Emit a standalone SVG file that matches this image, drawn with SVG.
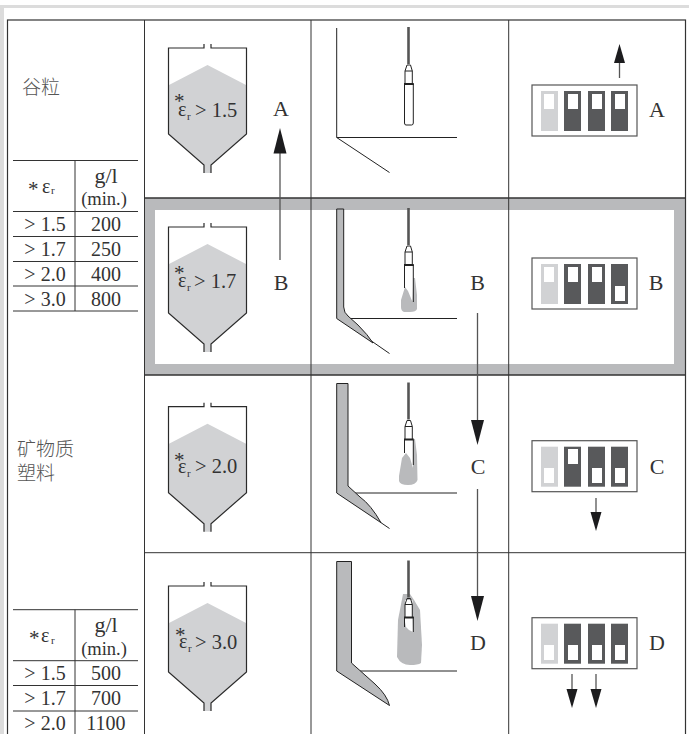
<svg xmlns="http://www.w3.org/2000/svg" width="689" height="734" viewBox="0 0 689 734">
<style>
text{font-family:"Liberation Serif",serif;fill:#333}
.cjk{font-family:"Noto Sans CJK SC","Liberation Serif",serif;font-size:19px;fill:#555;font-weight:300}
.t{font-size:20px;text-anchor:middle}
.m{font-size:18.5px;text-anchor:middle}
.gl{font-size:22px;text-anchor:middle}
.big{font-size:22px;text-anchor:middle}
.sv{font-size:20.500px}
.sub{font-size:11px}
.eps{font-size:20px}
.star{font-size:21px}
.l{fill:none;stroke:#333;stroke-width:1}
.k{stroke:#222;stroke-width:1;fill:none}
.sfill{fill:#d1d2d4}
.sline{fill:none;stroke:#2a2a2a;stroke-width:1.2}
.mat{fill:#b9babc;stroke:#222;stroke-width:1}
.blob{fill:#b9babc}
.body{fill:none;stroke:#222;stroke-width:1}
.ring{stroke:#222;stroke-width:2}
.wire{stroke:#555;stroke-width:2.600}
.sw{fill:#fff;stroke:#555;stroke-width:1.200}
.dk{fill:#58595b}
.lt{fill:#d1d2d4}
.w{fill:#fff}
.arl{stroke:#555;stroke-width:1.300;fill:none}
.arh{fill:#1c1c1e}
</style>
<defs>
<g id="silo">
<polygon class="sfill" points="169,85 207.500,65 246,85 246,134 211,165 211,173 204,173 204,165 169,134"/>
<path class="sline" d="M204,44V48H168.500V134L204,165V173M211,44V48H246.500V134L211,165V173"/>
</g>
<g id="head">
<path class="wire" d="M408.500,27V64"/>
<path class="body" d="M405,84V71L407,65H410.500L412.300,71V84M405,71H412.300"/>
<path class="ring" d="M404,84H413.800"/>
</g>
<g id="sw">
<rect class="sw" x="532" y="85" width="105" height="51"/>
<rect class="lt" x="541" y="91" width="17" height="40"/>
<rect class="dk" x="564" y="91" width="17" height="40"/>
<rect class="dk" x="588" y="91" width="17" height="40"/>
<rect class="dk" x="611" y="91" width="17" height="40"/>
</g>
<rect id="wu" class="w" width="10" height="15"/>
<path id="ua" class="arh" d="M0,0L5.500,19H-5.500Z"/>
<path id="da" class="arh" d="M0,0L5.500,-19H-5.500Z"/>
</defs>
<rect width="689" height="734" fill="#fff"/>
<path d="M0,5H689V8H4V734H0Z" fill="#dcdcdc"/>

<g id="highlight">
<path fill="#b9babc" fill-rule="evenodd" d="M144,198H686V375H144ZM155,210V364H674V210Z"/>
</g>

<g id="grid">
<rect x="7.500" y="20" width="678" height="720" fill="none" stroke="#333" stroke-width="1.200"/>
<path class="l" d="M144.500,20V734M311,20V734M508.700,20V734M144,552.700H686"/>
<path d="M144,198H686M144,375H686" stroke="#333" stroke-width="1.500" fill="none"/>
</g>

<g id="table-1">
<path class="l" d="M13,160.500H138M13,211.500H138M13,236.500H138M13,261.500H138M13,286H138M13,311H138M75,160.500V311"/>
<text><tspan x="28" y="196" class="star">*</tspan><tspan x="42" y="193" class="eps">ε</tspan><tspan x="51" y="194" class="sub">r</tspan></text>
<text class="gl" x="106" y="183">g/l</text><text class="m" x="104" y="205">(min.)</text>
<text class="t" x="45" y="231">&gt; 1.5</text><text class="t" x="106" y="231">200</text>
<text class="t" x="45" y="256">&gt; 1.7</text><text class="t" x="106" y="256">250</text>
<text class="t" x="45" y="281">&gt; 2.0</text><text class="t" x="106" y="281">400</text>
<text class="t" x="45" y="306">&gt; 3.0</text><text class="t" x="106" y="306">800</text>
</g>
<g id="table-2">
<path class="l" d="M13,609.700H138M13,660.700H138M13,685.500H138M13,711H138M75,609.700V734"/>
<text><tspan x="29" y="645" class="star">*</tspan><tspan x="41" y="642" class="eps">ε</tspan><tspan x="51" y="644" class="sub">r</tspan></text>
<text class="gl" x="106" y="632">g/l</text><text class="m" x="104" y="655">(min.)</text>
<text class="t" x="45" y="680">&gt; 1.5</text><text class="t" x="106" y="680">500</text>
<text class="t" x="45" y="705">&gt; 1.7</text><text class="t" x="106" y="705">700</text>
<text class="t" x="45" y="730">&gt; 2.0</text><text class="t" x="106" y="730">1100</text>
</g>
<g id="labels-material">
<text class="cjk" x="22" y="94">谷粒</text>
<text class="cjk" x="17" y="456">矿物质</text>
<text class="cjk" x="17" y="480">塑料</text>
</g>

<g id="silo-a"><use href="#silo"/>
<text><tspan x="174" y="108" class="star">*</tspan><tspan x="178" y="116" class="eps">ε</tspan><tspan x="187" y="120" class="sub">r</tspan><tspan x="195" y="117" class="sv">&gt; 1.5</tspan></text></g>
<g id="silo-b"><use href="#silo" y="179"/>
<text><tspan x="174" y="280" class="star">*</tspan><tspan x="178" y="287" class="eps">ε</tspan><tspan x="187" y="291" class="sub">r</tspan><tspan x="194" y="288" class="sv">&gt; 1.7</tspan></text></g>
<g id="silo-c"><use href="#silo" y="358.700"/>
<text><tspan x="174" y="467" class="star">*</tspan><tspan x="178" y="473" class="eps">ε</tspan><tspan x="187" y="477" class="sub">r</tspan><tspan x="195" y="473" class="sv">&gt; 2.0</tspan></text></g>
<g id="silo-d"><use href="#silo" y="538"/>
<text><tspan x="175" y="642" class="star">*</tspan><tspan x="179" y="648" class="eps">ε</tspan><tspan x="188" y="652" class="sub">r</tspan><tspan x="195" y="649" class="sv">&gt; 3.0</tspan></text></g>

<g id="vessel-a">
<path class="k" d="M336.700,137.500H457M336.700,137.500L389.500,172.500M336.700,28V137.500"/>
<use href="#head"/>
<path class="body" d="M404.500,84V123Q404.500,125 406,125H411.500Q413.300,125 413.300,123V84"/>
</g>
<g id="vessel-b">
<path class="k" d="M345,318.500H457M370,340L389.500,353.500"/>
<path class="blob" d="M401,300L405,287L408,291L412.500,302L413.300,278H415L417,295V309Q416,312 410,312H404Q401,311 401,307Z"/>
<path class="mat" d="M336.700,209H343.700V307Q344,313 348,316L358,325Q368,335 373,343L336.700,318.500Z"/>
<use href="#head" y="181"/>
<path class="body" d="M404.500,265V288M413.300,265V302"/>
</g>
<g id="vessel-c">
<path class="k" d="M355,493H457M381,522.700L389.500,528.500"/>
<path class="blob" d="M399,476L402,458L406,453L410,458L413,468L413.300,439H415L417,455L417.500,480Q416,485 408,485Q400,485 399,481Z"/>
<path class="mat" d="M336.700,383.500H348V486L360,497Q371,505 381,522.700L336.700,493Z"/>
<use href="#head" y="355.500"/>
<path class="body" d="M404.500,440V453M413.300,440V465"/>
</g>
<g id="vessel-d">
<path class="k" d="M360,671H457"/>
<path class="blob" d="M403,594L398,620L397,657Q401,665 410,665Q418,665 421,663L422,645L420,610L414,600L410,594Z"/>
<path class="w" d="M405,600H412.500V618L413,632L409,630L406,627L405,622Z"/>
<path class="mat" d="M336.700,561.500H351.500V663L375,684Q387,695 389.500,705.500L336.700,671Z"/>
<use href="#head" y="533.500"/>
<path class="body" d="M404.500,617V627M413.300,617V632"/>
</g>

<g id="switch-a"><use href="#sw"/>
<use href="#wu" x="544" y="94"/><use href="#wu" x="568" y="94"/><use href="#wu" x="592" y="94"/><use href="#wu" x="615" y="94"/></g>
<g id="switch-b"><use href="#sw" y="173"/>
<use href="#wu" x="544" y="267"/><use href="#wu" x="568" y="267"/><use href="#wu" x="592" y="267"/><use href="#wu" x="615" y="286"/></g>
<g id="switch-c"><use href="#sw" y="355.700"/>
<use href="#wu" x="544" y="468"/><use href="#wu" x="568" y="449"/><use href="#wu" x="592" y="468"/><use href="#wu" x="615" y="468"/></g>
<g id="switch-d"><use href="#sw" y="532.700"/>
<use href="#wu" x="544" y="645"/><use href="#wu" x="568" y="645"/><use href="#wu" x="592" y="645"/><use href="#wu" x="615" y="645"/></g>

<g id="letters">
<text class="big" x="281" y="116">A</text>
<text class="big" x="281" y="290">B</text>
<text class="big" x="477.500" y="290">B</text>
<text class="big" x="478" y="474">C</text>
<text class="big" x="478" y="650">D</text>
<text class="big" x="657" y="117">A</text>
<text class="big" x="656" y="290">B</text>
<text class="big" x="657" y="474">C</text>
<text class="big" x="657" y="650">D</text>
</g>

<g id="connectors">
<path class="arl" d="M280,260V150"/><path class="arh" d="M280,128L286.500,153.500H273.500Z"/>
<path class="arl" d="M477.500,313V422"/><path class="arh" d="M477.500,445L484,420H471Z"/>
<path class="arl" d="M477.500,489V598"/><path class="arh" d="M477.500,621L484,596H471Z"/>
<path class="arl" d="M619.500,78V60"/><use href="#ua" x="619.500" y="44"/>
<path class="arl" d="M596,498V515"/><use href="#da" x="596" y="531"/>
<path class="arl" d="M572,674V692"/><use href="#da" x="572" y="708"/>
<path class="arl" d="M596,674V692"/><use href="#da" x="596" y="708"/>
</g>
</svg>
